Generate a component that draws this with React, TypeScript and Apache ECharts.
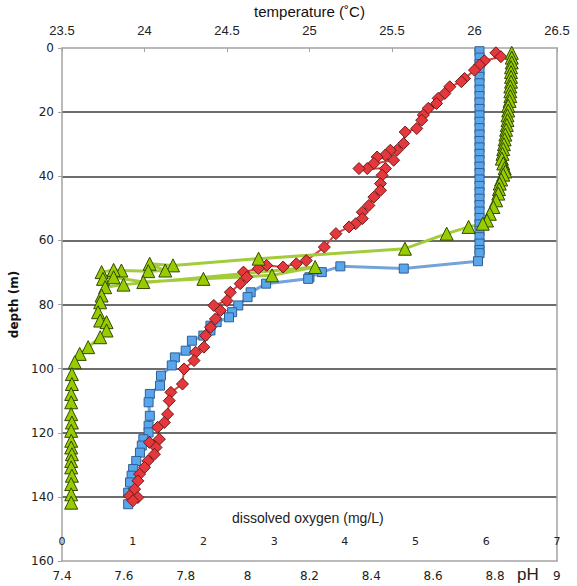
import React, { useEffect, useRef } from "react";
import * as echarts from "echarts";

// Temperature profile (°C) vs depth (m) — red diamonds, top axis
const tempDepth = [1.5, 2.7, 4.0, 5.3, 6.9, 9.5, 10.5, 12.1, 14.2, 15.7, 17.3, 18.8, 20.9, 22.5, 25.1, 26.2, 29.8, 31.9, 31.9, 33.4, 34.0, 35.0, 36.0, 37.6, 37.6, 37.6, 39.7, 42.3, 44.4, 46.5, 49.1, 51.2, 53.2, 54.8, 55.8, 57.9, 62.1, 66.3, 67.3, 68.3, 67.8, 68.8, 69.9, 71.5, 73.5, 76.2, 78.8, 80.3, 81.9, 84.5, 87.1, 89.7, 93.3, 94.9, 97.5, 100.1, 104.8, 107.4, 110.0, 114.2, 116.8, 118.3, 122.0, 123.0, 124.6, 126.7, 128.8, 130.8, 132.9, 135.0, 137.6, 139.7, 140.2, 141.2];
const tempValues = [26.13, 26.16, 26.06, 26.03, 26.0, 25.94, 25.92, 25.85, 25.82, 25.78, 25.77, 25.72, 25.69, 25.68, 25.65, 25.58, 25.57, 25.53, 25.49, 25.46, 25.41, 25.51, 25.39, 25.35, 25.3, 25.46, 25.44, 25.43, 25.43, 25.39, 25.36, 25.32, 25.32, 25.28, 25.24, 25.16, 25.09, 24.98, 24.92, 24.84, 24.74, 24.69, 24.6, 24.62, 24.58, 24.52, 24.5, 24.42, 24.46, 24.43, 24.4, 24.37, 24.36, 24.31, 24.3, 24.24, 24.23, 24.16, 24.15, 24.14, 24.12, 24.08, 24.09, 24.03, 24.07, 24.06, 24.02, 24.0, 23.97, 23.96, 23.94, 23.91, 23.96, 23.93];

// pH profile vs depth — blue squares, bottom (outer) axis
const phDepth = [1, 3, 5, 7, 9, 11, 13, 15, 17, 19, 21, 23, 25, 27, 29, 31, 33, 35, 37, 39, 41, 43, 45, 47, 49, 51, 53, 55, 57, 59, 61, 63, 64, 66.5, 68.8, 68.1, 69.9, 71.5, 72.0, 73.5, 76.2, 77.7, 80.3, 82.4, 84.0, 85.5, 86.6, 88.1, 89.7, 91.3, 94.4, 96.5, 99.0, 102.2, 105.3, 107.9, 110.5, 114.7, 117.8, 119.9, 122.0, 124.0, 126.2, 128.8, 131.3, 133.4, 135.5, 138.7, 142.3];
const phValues = [8.75, 8.75, 8.75, 8.75, 8.75, 8.75, 8.75, 8.75, 8.75, 8.75, 8.75, 8.75, 8.75, 8.75, 8.75, 8.75, 8.75, 8.75, 8.75, 8.75, 8.75, 8.75, 8.75, 8.75, 8.75, 8.75, 8.75, 8.75, 8.75, 8.75, 8.75, 8.75, 8.75, 8.745, 8.505, 8.3, 8.24, 8.2, 8.196, 8.06, 8.01, 8.0, 7.97, 7.95, 7.94, 7.9, 7.88, 7.88, 7.857, 7.82, 7.8, 7.765, 7.755, 7.72, 7.717, 7.684, 7.68, 7.684, 7.68, 7.68, 7.663, 7.658, 7.652, 7.64, 7.63, 7.625, 7.62, 7.614, 7.614];

// Dissolved oxygen (mg/L) vs depth — green triangles, bottom (inner) axis
const doDepth = [1.5, 3, 4.5, 6, 7.5, 9, 10.5, 12, 13.5, 15, 16.5, 18, 19.5, 21, 22.5, 24, 25.5, 27, 28.5, 30, 31.5, 33, 34.5, 36, 37.5, 38.5, 39.5, 41, 42.3, 44, 45.4, 47.5, 49.6, 51.7, 53.8, 54.8, 55.8, 57.9, 62.6, 65.7, 67.8, 67.3, 69.4, 69.6, 69.4, 69.2, 69.9, 72.0, 71.5, 73.0, 72.0, 70.9, 68.3, 73.8, 74.6, 77.2, 79.3, 82.4, 85.0, 85.5, 88.1, 90.2, 93.3, 95.4, 98.0, 101.7, 104.8, 107.9, 110.5, 114.2, 116.8, 119.4, 122.5, 124.6, 126.7, 128.8, 130.8, 133.4, 136.0, 139.2, 141.8];
const doValues = [6.36, 6.36, 6.36, 6.35, 6.35, 6.35, 6.35, 6.34, 6.34, 6.34, 6.33, 6.31, 6.31, 6.3, 6.3, 6.29, 6.28, 6.27, 6.26, 6.25, 6.24, 6.23, 6.22, 6.24, 6.26, 6.27, 6.24, 6.21, 6.19, 6.18, 6.17, 6.14, 6.1, 6.05, 6.01, 5.95, 5.75, 5.44, 4.85, 2.78, 1.57, 1.24, 1.46, 1.22, 0.84, 0.73, 0.56, 0.58, 0.73, 1.15, 2.0, 2.97, 3.58, 0.87, 0.61, 0.56, 0.54, 0.51, 0.54, 0.63, 0.63, 0.54, 0.37, 0.25, 0.18, 0.14, 0.14, 0.13, 0.13, 0.13, 0.14, 0.13, 0.13, 0.13, 0.14, 0.13, 0.13, 0.14, 0.13, 0.13, 0.13];

// Tick labels of the pH axis
const phTicks = [7.4, 7.6, 7.8, 8, 8.2, 8.4, 8.6, 8.8, 9];

const pairs = (xs: number[], ys: number[]) => xs.map((x, i) => [x, ys[i]]);

export default function App() {
  const ref = useRef<HTMLDivElement>(null);
  useEffect(() => {
    if (!ref.current) return;
    const chart = echarts.init(ref.current, null, { renderer: "svg" });
    const axisGray = "#a3a3a3";
    chart.setOption({
      animation: false,
      backgroundColor: "#ffffff",
      textStyle: { fontFamily: "Liberation Sans" },
      grid: { left: 62, right: 20, top: 48, bottom: 25, containLabel: false, outerBoundsMode: "none" },
      xAxis: [
        {
          type: "value",
          position: "top",
          min: 23.5,
          max: 26.5,
          interval: 0.5,
          axisLine: { show: true, lineStyle: { color: axisGray, width: 1.5 } },
          axisTick: { show: true, inside: true, length: 4, lineStyle: { color: axisGray } },
          axisLabel: { fontSize: 13, color: "#222", margin: 11, fontFamily: "Liberation Sans" },
          splitLine: { show: false },
          name: "temperature (˚C)",
          nameLocation: "middle",
          nameGap: 28,
          nameTextStyle: { fontSize: 15, color: "#111", fontFamily: "Liberation Sans" },
        },
        {
          type: "value",
          position: "bottom",
          min: 0,
          max: 7,
          interval: 1,
          axisLine: { show: false },
          axisTick: { show: false },
          axisLabel: { inside: true, fontSize: 11, color: "#222", margin: 14, fontFamily: "DejaVu Sans" },
          splitLine: { show: false },
        },
        {
          type: "value",
          position: "bottom",
          min: 7.4,
          max: 9.0005,
          axisLine: { show: true, lineStyle: { color: axisGray, width: 1.5 } },
          axisTick: { show: false },
          axisLabel: {
            fontSize: 12,
            color: "#222",
            margin: 9,
            fontFamily: "DejaVu Sans",
            customValues: phTicks,
            showMaxLabel: true,
            showMinLabel: true,
            hideOverlap: false,
          },
          splitLine: { show: false },
        },
      ],
      yAxis: [
        {
          type: "value",
          inverse: true,
          min: 0,
          max: 160,
          interval: 20,
          axisLine: { show: true, lineStyle: { color: axisGray, width: 1.5 } },
          axisTick: { show: true, length: 4, lineStyle: { color: axisGray } },
          axisLabel: { fontSize: 12, color: "#222", margin: 8, fontFamily: "DejaVu Sans" },
          splitLine: { show: true, showMinLine: false, showMaxLine: false, lineStyle: { color: "#3c3c3c", width: 1.5 } },
          name: "depth (m)",
          nameLocation: "middle",
          nameGap: 40,
          nameRotate: 90,
          nameTextStyle: { fontSize: 12, fontWeight: "bold", color: "#111", fontFamily: "DejaVu Sans" },
        },
        {
          type: "value",
          position: "right",
          inverse: true,
          min: 0,
          max: 160,
          interval: 20,
          axisLine: { show: true, lineStyle: { color: axisGray, width: 1.5 } },
          axisTick: { show: false },
          axisLabel: { show: false },
          splitLine: { show: false },
        },
      ],
      graphic: [
        {
          type: "text",
          left: 232,
          top: 511,
          style: { text: "dissolved oxygen (mg/L)", fontSize: 14, fill: "#222", fontFamily: "Liberation Sans" },
        },
        {
          type: "text",
          left: 517,
          top: 566,
          style: { text: "pH", fontSize: 17, fill: "#222", fontFamily: "Liberation Sans" },
        },
      ],
      series: [
        {
          name: "pH",
          type: "line",
          xAxisIndex: 2,
          yAxisIndex: 0,
          data: pairs(phValues, phDepth),
          symbol: "rect",
          symbolSize: 9,
          showAllSymbol: true,
          lineStyle: { color: "#74a3da", width: 3 },
          itemStyle: { color: "#5aa6ec", borderColor: "#2f5f93", borderWidth: 1 },
        },
        {
          name: "temperature",
          type: "line",
          xAxisIndex: 0,
          yAxisIndex: 0,
          data: pairs(tempValues, tempDepth),
          symbol: "diamond",
          symbolSize: 12,
          showAllSymbol: true,
          lineStyle: { color: "#d8433c", width: 2 },
          itemStyle: { color: "#e5383c", borderColor: "#6e1a1a", borderWidth: 1 },
        },
        {
          name: "dissolved oxygen",
          type: "line",
          xAxisIndex: 1,
          yAxisIndex: 0,
          data: pairs(doValues, doDepth),
          symbol: "triangle",
          symbolSize: 13,
          showAllSymbol: true,
          lineStyle: { color: "#a2cc3a", width: 3 },
          itemStyle: { color: "#99cc00", borderColor: "#304a00", borderWidth: 1 },
        },
      ],
    });
    return () => chart.dispose();
  }, []);
  return (
    <div
      ref={ref}
      style={{ position: "fixed", left: 0, top: 0, width: 577, height: 586, background: "#fff" }}
    />
  );
}
